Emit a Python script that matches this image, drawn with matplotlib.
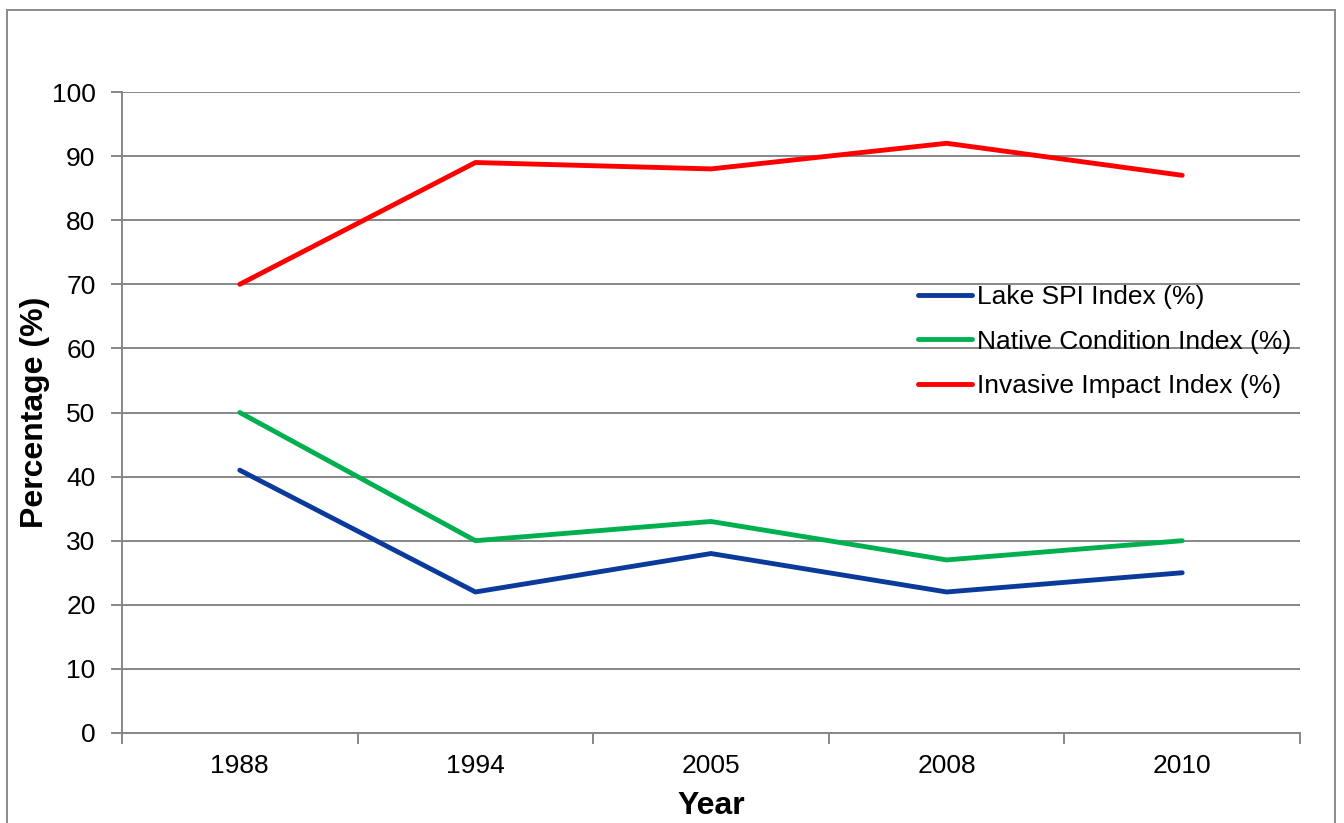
import matplotlib
matplotlib.use("Agg")
import matplotlib.pyplot as plt
from matplotlib.patches import Rectangle

years = ["1988", "1994", "2005", "2008", "2010"]
lake_spi = [41, 22, 28, 22, 25]
native_condition = [50, 30, 33, 27, 30]
invasive_impact = [70, 89, 88, 92, 87]

series_names = ["Lake SPI Index (%)", "Native Condition Index (%)", "Invasive Impact Index (%)"]
series_colors = ["#0A3A9C", "#00B050", "#FF0000"]

plt.rcParams["font.family"] = ["Liberation Sans", "DejaVu Sans"]

fig = plt.figure(figsize=(13.44, 8.23), dpi=100)
ax = fig.add_axes([122 / 1344, 1 - 733 / 823, (1300 - 122) / 1344, (733 - 92) / 823])

x = list(range(len(years)))
for vals, name, col in zip([lake_spi, native_condition, invasive_impact], series_names, series_colors):
    ax.plot(x, vals, color=col, lw=3.5, label=name, solid_capstyle="round", solid_joinstyle="round")

grid_color = "#878787"
ax.set_ylim(0, 100)
ax.set_xlim(-0.5, len(years) - 0.5)
ax.set_yticks(range(0, 101, 10))
ax.yaxis.grid(True, color=grid_color, lw=1.4)
ax.set_axisbelow(True)

# category labels centred, tick marks on category boundaries
ax.set_xticks(x)
ax.set_xticklabels(years)
ax.set_xticks([i - 0.5 for i in range(len(years) + 1)], minor=True)
ax.tick_params(axis="x", which="major", length=0, pad=15, labelsize=19)
ax.tick_params(axis="x", which="minor", length=8, width=1.4, color=grid_color, direction="out")
ax.tick_params(axis="y", length=8, width=1.4, color=grid_color, direction="out", pad=11, labelsize=19)

for s in ["top", "right"]:
    ax.spines[s].set_visible(False)
for s in ["left", "bottom"]:
    ax.spines[s].set_color(grid_color)
    ax.spines[s].set_linewidth(1.4)

fig.text(35 / 1344, 1 - 412 / 823, "Percentage (%)", rotation=90, fontsize=23,
         fontweight="bold", ha="center", va="center")
fig.text(711 / 1344, 1 - 806 / 823, "Year", fontsize=23, fontweight="bold",
         ha="center", va="center")

fig.legend(loc="upper left", bbox_to_anchor=(918 / 1344, 1 - 285 / 823), frameon=False,
           fontsize=19, handlelength=2.05, handletextpad=0.2, labelspacing=0.78,
           borderpad=0, borderaxespad=0)

fig.add_artist(Rectangle((7 / 1344, -0.05), (1335 - 7) / 1344, 0.05 + 1 - 10 / 823,
                         transform=fig.transFigure, fill=False, edgecolor="#8a8a8a", lw=1.4))

fig.savefig("out.png", dpi=100)
